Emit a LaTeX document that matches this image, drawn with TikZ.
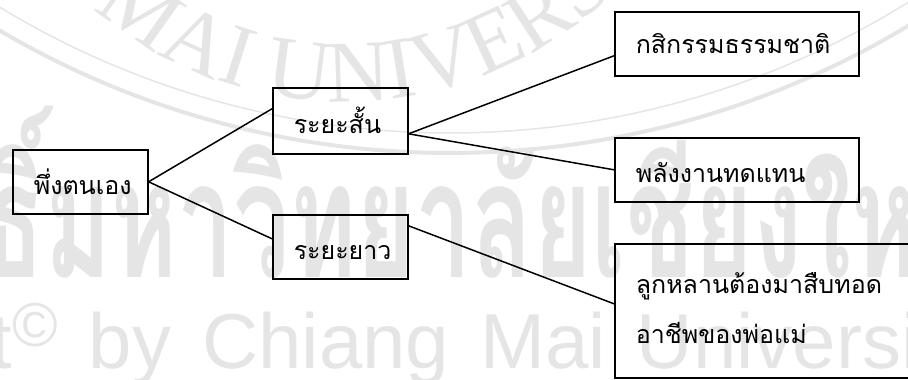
\documentclass[tikz,border=0pt]{standalone}
\usepackage{fontspec}
\usetikzlibrary{decorations.text}
\newfontfamily\thai[Script=Thai]{Loma}
\newfontfamily\wmsans{Liberation Sans}
\newfontfamily\wmserif{Liberation Serif}
\definecolor{wm}{gray}{0.9}
\begin{document}
\begin{tikzpicture}[x=1pt,y=-1pt,
  box/.style={draw=black, line width=1.6pt, inner xsep=21pt, inner ysep=0pt,
    align=left, anchor=north west, font=\thai\fontsize{25}{50}\selectfont,
    text height=26pt, text depth=0pt},
  conn/.style={line width=1.5pt},
  wmtext/.style={text=wm, inner sep=0pt}]
\useasboundingbox (0,0) rectangle (908,380);
\clip (0,0) rectangle (908,380);
% watermark
\draw[wm, line width=1.5pt] ([shift={(228:868pt)}]450,-735) arc[start angle=228, end angle=312, radius=868pt];
\draw[wm, line width=4pt] ([shift={(228:888pt)}]450,-735) arc[start angle=228, end angle=312, radius=888pt];
\path[color=wm, decorate, decoration={text along path, text align=left,
  text={|\wmserif\fontsize{88}{88}\selectfont\color{wm}|CHIANG MAI UNIVERSITY}}]
  ([shift={(174.5:383pt)}]345,-281) arc[start angle=174.5, end angle=356, radius=383pt];
\node[wmtext, anchor=base west, xscale=0.62] (wmthai) at (45,277)
  {\thai\bfseries\fontsize{162}{162}\selectfont\llap{ลิขสิทธิ์}มหาวิทยาลัยเชียงใหม่};
\node[wmtext, anchor=base west] (wmcopy) at (-322,368)
  {\wmsans\fontsize{78}{78}\selectfont\spaceskip=31pt Copyright{\fontsize{62}{62}\selectfont\raisebox{22pt}{©}} by Chiang Mai University};
% diagram
\node[box, text width=93pt, minimum width=135pt, minimum height=64pt] (root) at (12,149) {พึ่งตนเอง};
\node[box, text width=93pt, minimum width=135pt, minimum height=66pt] (short) at (272,87) {ระยะสั้น};
\node[box, text width=93pt, minimum width=135pt, minimum height=64pt] (long) at (272,214) {ระยะยาว};
\node[box, text width=202pt, minimum width=244pt, minimum height=64pt, text height=20pt] (kasi) at (614,11) {กสิกรรมธรรมชาติ};
\node[box, text width=202pt, minimum width=244pt, minimum height=64pt] (energy) at (614,137) {พลังงานทดแทน};
\node[box, text width=288pt, minimum width=330pt, minimum height=134pt, text depth=60pt] (heir) at (614,243) {ลูกหลานต้องมาสืบทอด\\อาชีพของพ่อแม่};
\draw[conn] (root.east) -- ([yshift=12pt]short.west);
\draw[conn] (root.east) -- ([yshift=8pt]long.west);
\draw[conn] ([yshift=-13pt]short.east) -- ([yshift=-12pt]kasi.west);
\draw[conn] ([yshift=-13pt]short.east) -- (energy.west);
\draw[conn] ([yshift=21pt]long.east) -- ([yshift=7pt]heir.west);
\end{tikzpicture}
\end{document}
